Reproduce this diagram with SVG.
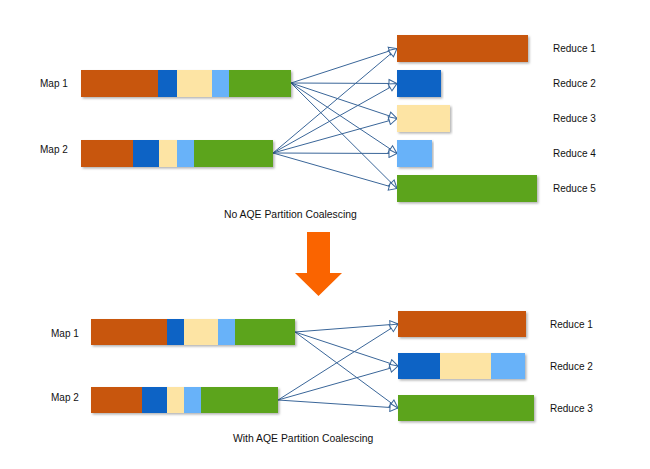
<svg xmlns="http://www.w3.org/2000/svg" width="650" height="469" viewBox="0 0 650 469">
<defs>
<style>
text{font-family:"Liberation Sans",Arial,sans-serif;font-size:10px;fill:#111}
.cap{font-size:10.4px}
.o{fill:#C8560A}.b{fill:#0B63C5}.y{fill:#FDE4A4}.l{fill:#68B2F9}.g{fill:#5CA41C}
.bar{filter:url(#sh)}
.c path{fill:none;stroke:#3A6699;stroke-width:1;marker-end:url(#ah)}
</style>
<filter id="sh" x="-5%" y="-20%" width="110%" height="150%">
<feDropShadow dx="1.5" dy="1.5" stdDeviation="1" flood-color="#000" flood-opacity="0.3"/>
</filter>
<marker id="ah" markerUnits="userSpaceOnUse" markerWidth="10" markerHeight="10" refX="8" refY="4" orient="auto" viewBox="-1 -1 10 10">
<path d="M0,0 L8,4 L0,8 Z" fill="#fff" stroke="#3A6699" stroke-width="1"/>
</marker>
</defs>
<rect width="650" height="469" fill="#fff"/>

<g class="c" id="connectors-top">
<path d="M291,83 L397,48.5"/>
<path d="M291,83 L397,83.5"/>
<path d="M291,83 L397,118.5"/>
<path d="M291,83 L397,153.5"/>
<path d="M291,83 L397,188.5"/>
<path d="M273,153 L397,48.5"/>
<path d="M273,153 L397,83.5"/>
<path d="M273,153 L397,118.5"/>
<path d="M273,153 L397,153.5"/>
<path d="M273,153 L397,188.5"/>
</g>

<g id="t-map1">
<text x="40" y="87">Map 1</text>
<g class="bar"><rect class="o" x="81" y="70" width="77" height="27"/><rect class="b" x="158" y="70" width="19" height="27"/><rect class="y" x="177" y="70" width="35" height="27"/><rect class="l" x="212" y="70" width="17" height="27"/><rect class="g" x="229" y="70" width="62" height="27"/></g>
</g>
<g id="t-map2">
<text x="40" y="153">Map 2</text>
<g class="bar"><rect class="o" x="81" y="140" width="52" height="27"/><rect class="b" x="133" y="140" width="26" height="27"/><rect class="y" x="159" y="140" width="18" height="27"/><rect class="l" x="177" y="140" width="17" height="27"/><rect class="g" x="194" y="140" width="79" height="27"/></g>
</g>

<g id="t-reduce1"><rect class="o bar" x="397" y="35" width="131" height="27"/><text x="553" y="52">Reduce 1</text></g>
<g id="t-reduce2"><rect class="b bar" x="397" y="70" width="44" height="27"/><text x="553" y="87">Reduce 2</text></g>
<g id="t-reduce3"><rect class="y bar" x="397" y="105" width="53" height="27"/><text x="553" y="122">Reduce 3</text></g>
<g id="t-reduce4"><rect class="l bar" x="397" y="140" width="35" height="27"/><text x="553" y="157">Reduce 4</text></g>
<g id="t-reduce5"><rect class="g bar" x="397" y="175" width="140" height="27"/><text x="553" y="192">Reduce 5</text></g>

<text id="caption-top" class="cap" x="224" y="218">No AQE Partition Coalescing</text>

<g id="down-arrow">
<path d="M307,232 L330,232 L330,273 L342,273 L318.5,296 L295,273 L307,273 Z" fill="#FA6400"/>
</g>

<g class="c" id="connectors-bottom">
<path d="M295,332 L398,324"/>
<path d="M295,332 L398,366"/>
<path d="M295,332 L398,408"/>
<path d="M278,400 L398,324"/>
<path d="M278,400 L398,366"/>
<path d="M278,400 L398,408"/>
</g>

<g id="b-map1">
<text x="51" y="337">Map 1</text>
<g class="bar"><rect class="o" x="91" y="319" width="76" height="26"/><rect class="b" x="167" y="319" width="17" height="26"/><rect class="y" x="184" y="319" width="34" height="26"/><rect class="l" x="218" y="319" width="17" height="26"/><rect class="g" x="235" y="319" width="60" height="26"/></g>
</g>
<g id="b-map2">
<text x="51" y="401">Map 2</text>
<g class="bar"><rect class="o" x="91" y="387" width="51" height="26"/><rect class="b" x="142" y="387" width="25" height="26"/><rect class="y" x="167" y="387" width="17" height="26"/><rect class="l" x="184" y="387" width="17" height="26"/><rect class="g" x="201" y="387" width="77" height="26"/></g>
</g>

<g id="b-reduce1"><rect class="o bar" x="398" y="311" width="128" height="26"/><text x="550" y="328">Reduce 1</text></g>
<g id="b-reduce2"><g class="bar"><rect class="b" x="398" y="353" width="42" height="26"/><rect class="y" x="440" y="353" width="51" height="26"/><rect class="l" x="491" y="353" width="34" height="26"/></g><text x="550" y="370">Reduce 2</text></g>
<g id="b-reduce3"><rect class="g bar" x="398" y="395" width="136" height="26"/><text x="550" y="412">Reduce 3</text></g>

<text id="caption-bottom" class="cap" x="233" y="442">With AQE Partition Coalescing</text>
</svg>
